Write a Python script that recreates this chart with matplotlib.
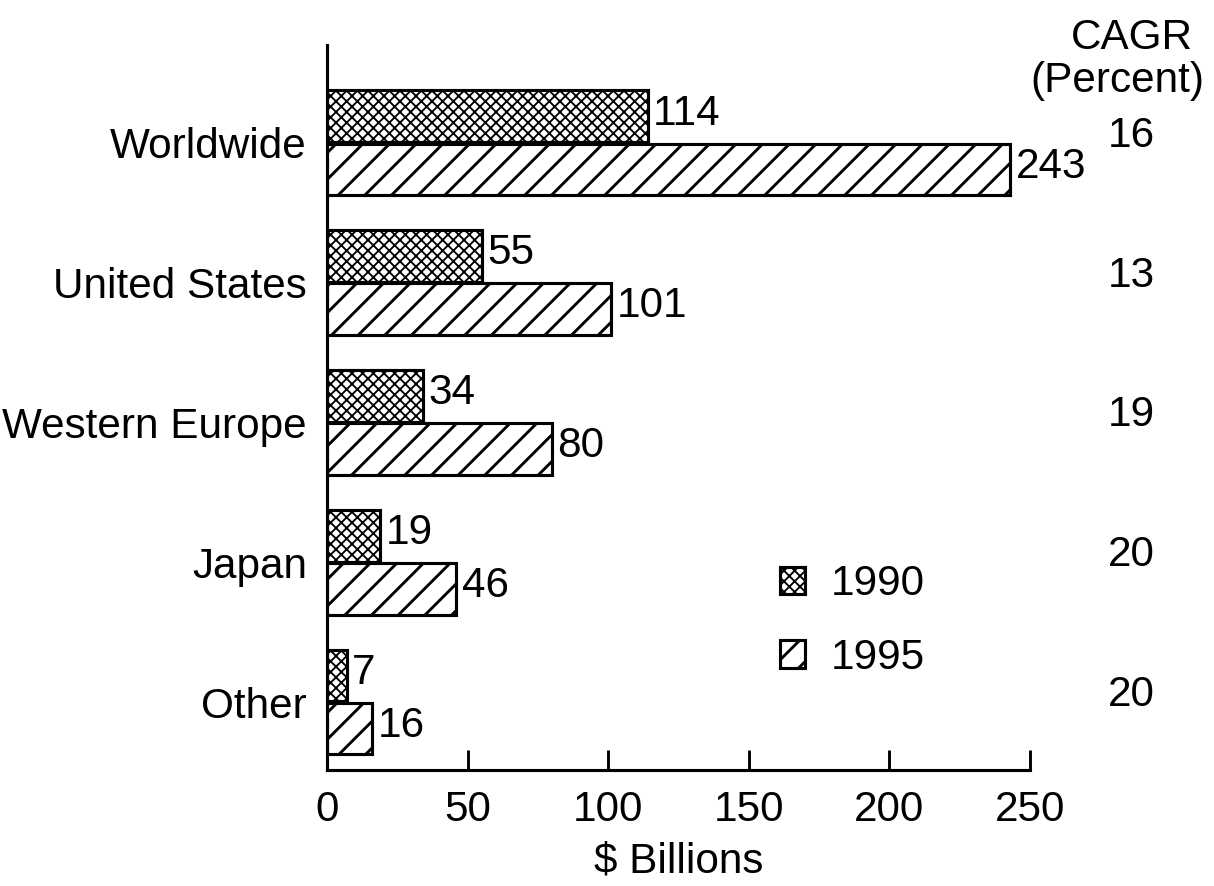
import matplotlib
matplotlib.use('Agg')
import matplotlib.pyplot as plt
from matplotlib.patches import Patch
import numpy as np

plt.rcParams['font.family'] = ['Liberation Sans', 'DejaVu Sans']
plt.rcParams['hatch.color'] = 'black'

regions = ["Worldwide", "United States", "Western Europe", "Japan", "Other"]
v1990 = [114, 55, 34, 19, 7]
v1995 = [243, 101, 80, 46, 16]
cagr = [16, 13, 19, 20, 20]
xticks = [0, 50, 100, 150, 200, 250]

DPI = 160
fig = plt.figure(figsize=(1214 / DPI, 886 / DPI), dpi=DPI)
ax = fig.add_axes([327 / 1214, 1 - 770 / 886, 703 / 1214, 725 / 886])

fs = 19
y = np.arange(len(regions))[::-1]
h = 0.37
off = 0.19
hatch90, hlw90 = 'xxxxx', 0.85
hatch95, hlw95 = '//', 1.3


def set_hlw(patches, lw):
    # per-patch hatch width (matplotlib >= 3.10), rcParams otherwise
    for p in patches:
        if hasattr(p, 'set_hatch_linewidth'):
            p.set_hatch_linewidth(lw)


with plt.rc_context({'hatch.linewidth': hlw90}):
    b90 = ax.barh(y + off, v1990, height=h, color='white', edgecolor='black',
                  linewidth=1.4, hatch=hatch90)
    h90 = Patch(facecolor='white', edgecolor='black', hatch=hatch90, lw=1.4)
with plt.rc_context({'hatch.linewidth': hlw95}):
    b95 = ax.barh(y - off, v1995, height=h, color='white', edgecolor='black',
                  linewidth=1.4, hatch=hatch95)
    h95 = Patch(facecolor='white', edgecolor='black', hatch=hatch95, lw=1.4)
set_hlw(b90, hlw90)
set_hlw(b95, hlw95)

# value labels at bar ends
for yi, a, b in zip(y, v1990, v1995):
    ax.text(a + 2, yi + off + 0.02, str(a), va='center', ha='left', fontsize=fs)
    ax.text(b + 2, yi - off + 0.02, str(b), va='center', ha='left', fontsize=fs)

# CAGR column on the right
for yi, c in zip(y, cagr):
    ax.text(1.144, yi + 0.05, str(c), transform=ax.get_yaxis_transform(),
            ha='center', va='center', fontsize=fs)
ax.text(1.145, 1.01, "CAGR", transform=ax.transAxes, ha='center',
        va='center', fontsize=fs)
ax.text(1.124, 0.95, "(Percent)", transform=ax.transAxes, ha='center',
        va='center', fontsize=fs)

ax.set_xlim(0, 250)
ax.set_ylim(-0.486, 4.7)
ax.set_xticks(xticks)
ax.set_yticks(y)
ax.set_yticklabels(regions, fontsize=fs)
ax.tick_params(axis='y', length=0, pad=9)
ax.tick_params(axis='x', direction='in', length=9, width=1.3, pad=9,
               labelsize=fs)
ax.set_xlabel("$ Billions", fontsize=fs, labelpad=5)

for s in ['top', 'right']:
    ax.spines[s].set_visible(False)
for s in ['left', 'bottom']:
    ax.spines[s].set_linewidth(1.4)

leg = ax.legend([h90, h95], ['1990', '1995'], loc='upper left',
                bbox_to_anchor=(0.644, 0.284), frameon=False, fontsize=fs,
                handlelength=0.61, handleheight=0.61, handletextpad=0.6,
                labelspacing=0.8, borderpad=0, borderaxespad=0)
set_hlw(leg.get_patches()[:1], hlw90)
set_hlw(leg.get_patches()[1:], hlw95)

fig.savefig('out.png', dpi=DPI)
